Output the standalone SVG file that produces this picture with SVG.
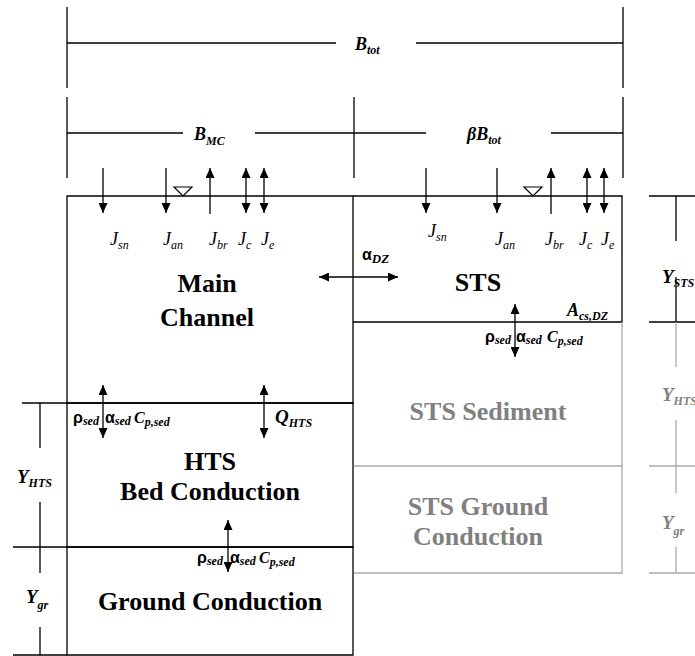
<svg xmlns="http://www.w3.org/2000/svg" width="695" height="656" viewBox="0 0 695 656">
<style>
.ln{stroke:#000;stroke-width:1.3;fill:none}
.gl{stroke:#aaa;stroke-width:1.3;fill:none}
.big{font-family:"Liberation Serif","Times New Roman",serif;font-weight:bold;font-size:26px;fill:#000;text-anchor:middle}
.gbig{font-family:"Liberation Serif","Times New Roman",serif;font-weight:bold;font-size:26px;fill:#808080;text-anchor:middle}
.j{font-family:"Liberation Serif",serif;font-style:italic;font-size:18px;fill:#000}
.bi{font-family:"Liberation Serif",serif;font-style:italic;font-weight:bold;font-size:19px;fill:#000}
.b18{font-size:18px}
.b16{font-size:16px}
.gbi{font-family:"Liberation Serif",serif;font-style:italic;font-weight:bold;font-size:19px;fill:#808080}
.sy{font-family:"Liberation Sans",sans-serif;font-weight:bold;font-size:16px;fill:#000}
.sub{font-size:12px}
.ss{font-family:"Liberation Serif",serif;font-style:italic;font-weight:bold;font-size:12px}
.sd{font-family:"Liberation Serif",serif;font-style:italic;font-weight:bold;font-size:13px}
.arr{stroke:#000;stroke-width:1.3;fill:none;marker-end:url(#ah)}
.dbl{stroke:#000;stroke-width:1.3;fill:none;marker-end:url(#ah);marker-start:url(#ah)}
</style>
<defs>
<marker id="ah" markerUnits="userSpaceOnUse" markerWidth="10" markerHeight="9" refX="10" refY="4.5" orient="auto-start-reverse">
<path d="M0,0 L10,4.5 L0,9 z" fill="#000"/>
</marker>
</defs>
<rect width="695" height="656" fill="#fff"/>

<g id="dimensions">
<path class="ln" d="M67,7 V88 M623,7 V88 M67,43 H336 M416,43 H623"/>
<path class="ln" d="M67,97 V178 M354,97 V178 M623,97 V178 M67,133 H183 M255,133 H426 M551,133 H623"/>
<text class="bi b18" x="355" y="50">B<tspan class="sub" dy="4">tot</tspan></text>
<text class="bi b18" x="194" y="140">B<tspan class="sub" dy="5">MC</tspan></text>
<text class="bi b18" x="467" y="140">βB<tspan class="sub" dy="4">tot</tspan></text>
<path class="ln" d="M649,196 H695 M676,196 V241 M676,277 V322 M649,322 H695"/>
<text class="bi" x="662" y="283">Y<tspan class="sub" dy="4">STS</tspan></text>
<path class="gl" d="M676,322 V367 M676,420 V493 M649,466 H695 M676,547 V573 M649,573 H695"/>
<text class="gbi" x="662" y="401">Y<tspan class="sub" dy="4">HTS</tspan></text>
<text class="gbi" x="662" y="529">Y<tspan class="sub" dy="6">gr</tspan></text>
<path class="ln" d="M22,403 H67 M13,547 H67 M13,655 H67 M40,403 V448 M40,502 V573 M40,627 V655"/>
<text class="bi" x="17" y="483">Y<tspan class="sub" dy="4">HTS</tspan></text>
<text class="bi" x="26" y="603">Y<tspan class="sub" dy="6">gr</tspan></text>
</g>

<g id="main-channel">
<path class="ln" d="M67,196 H353 V403 H67 Z"/>
<text class="big" x="207" y="292">Main</text>
<text class="big" x="207" y="326">Channel</text>
<path d="M174,187 H192 L183,196 Z" fill="#fff" stroke="#000" stroke-width="1.2"/>
<text class="j" x="110" y="245">J<tspan class="sub" dy="4">sn</tspan></text>
<text class="j" x="163" y="245">J<tspan class="sub" dy="4">an</tspan></text>
<text class="j" x="209" y="245">J<tspan class="sub" dy="4">br</tspan></text>
<text class="j" x="238" y="245">J<tspan class="sub" dy="4">c</tspan></text>
<text class="j" x="261" y="245">J<tspan class="sub" dy="4">e</tspan></text>
</g>

<g id="sts">
<path class="ln" d="M353,196 H622 V322 H353"/>
<text class="big" x="478" y="291">STS</text>
<path d="M524,187 H542 L533,196 Z" fill="#fff" stroke="#000" stroke-width="1.2"/>
<text class="j" x="428" y="237">J<tspan class="sub" dy="4">sn</tspan></text>
<text class="j" x="495" y="245">J<tspan class="sub" dy="4">an</tspan></text>
<text class="j" x="545" y="245">J<tspan class="sub" dy="4">br</tspan></text>
<text class="j" x="579" y="245">J<tspan class="sub" dy="4">c</tspan></text>
<text class="j" x="601" y="245">J<tspan class="sub" dy="4">e</tspan></text>
<text class="bi b18" x="567" y="316">A<tspan class="sub" dy="4">cs,DZ</tspan></text>
</g>

<g id="hts-bed">
<path class="ln" d="M67,403 H353 V547 H67 Z"/>
<text class="big" x="210" y="470">HTS</text>
<text class="big" x="210" y="500">Bed Conduction</text>
<text class="bi" x="275" y="423">Q<tspan class="sub" dy="4">HTS</tspan></text>
</g>

<g id="ground">
<path class="ln" d="M67,547 H353 V655 H67 Z"/>
<text class="big" x="210" y="610">Ground Conduction</text>
</g>

<g id="sts-sediment">
<path class="gl" d="M354,466 H622 V322"/>
<text class="gbig" x="488" y="420">STS Sediment</text>
</g>

<g id="sts-ground">
<path class="gl" d="M354,573 H622 V466"/>
<text class="gbig" x="478" y="515">STS Ground</text>
<text class="gbig" x="478" y="545">Conduction</text>
</g>

<g id="connectors">
<path class="arr" d="M103,168 V213"/>
<path class="arr" d="M166,168 V213"/>
<path class="arr" d="M210,214 V168"/>
<path class="dbl" d="M246,168 V213"/>
<path class="dbl" d="M264,168 V213"/>
<path class="arr" d="M426,168 V213"/>
<path class="arr" d="M497,168 V213"/>
<path class="arr" d="M551,214 V168"/>
<path class="dbl" d="M587,168 V213"/>
<path class="dbl" d="M604,168 V213"/>
<path class="dbl" d="M319,277 H398"/>
<path class="dbl" d="M515,304 V357"/>
<path class="dbl" d="M103,385 V438"/>
<path class="dbl" d="M264,385 V438"/>
<path class="dbl" d="M228,520 V572"/>
</g>

<g id="labels">
<text class="sy" x="362" y="260">α<tspan class="sd" dy="3">DZ</tspan></text>
<text class="sy" x="73" y="423">ρ<tspan class="ss" dy="2">sed</tspan></text>
<text class="sy" x="105" y="423">α<tspan class="ss" dy="2">sed</tspan></text>
<text class="bi b16" x="134" y="423">C<tspan class="sub" dy="3">p,sed</tspan></text>
<text class="sy" x="485" y="342">ρ<tspan class="ss" dy="2">sed</tspan></text>
<text class="sy" x="516" y="342">α<tspan class="ss" dy="2">sed</tspan></text>
<text class="bi b16" x="547" y="342">C<tspan class="sub" dy="3">p,sed</tspan></text>
<text class="sy" x="197" y="563">ρ<tspan class="ss" dy="2">sed</tspan></text>
<text class="sy" x="230" y="563">α<tspan class="ss" dy="2">sed</tspan></text>
<text class="bi b16" x="259" y="563">C<tspan class="sub" dy="3">p,sed</tspan></text>
</g>
</svg>
